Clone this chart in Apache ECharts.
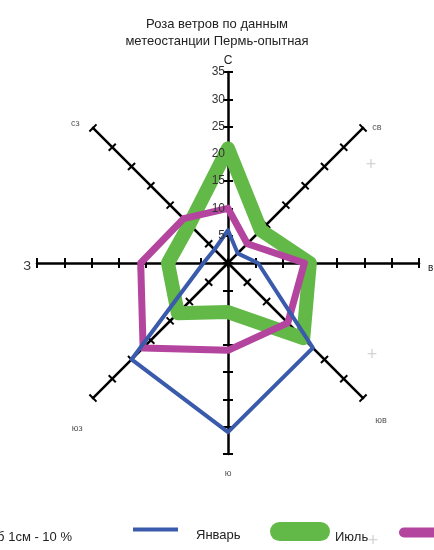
<!DOCTYPE html>
<html>
<head>
<meta charset="utf-8">
<title>Роза ветров</title>
<script src="https://cdn.jsdelivr.net/npm/echarts@6/dist/echarts.min.js"></script>
<style>
html, body { margin: 0; padding: 0; background: #fff; }
#dataView { width: 434px; height: 550px; }
</style>
</head>
<body>
<div id="dataView"></div>
<script>
// румбы в порядке радара echarts: от севера против часовой стрелки
var directions = ['С', 'сз', 'З', 'юз', 'ю', 'юв', 'в', 'св'];
var dirKeys = ['n', 'nw', 'w', 'sw', 's', 'se', 'e', 'ne'];
// повторяемость ветра, %
var janValues = [6, 3.5, 4.5, 25, 31, 22, 5.5, 2.5];
var julValues = [21, 10, 11, 13, 9, 19.5, 15, 8.5];
var yearValues = [10, 11.5, 16, 22, 16, 15.5, 14, 5];
var seriesNames = ['Январь', 'Июль', 'Год'];
var scaleTicks = [0, 5, 10, 15, 20, 25, 30, 35];

var FONT = 'Liberation Sans, Arial, sans-serif';
var CENTER = [228, 263];
var RADIUS = 191;
var scaleMax = scaleTicks[scaleTicks.length - 1];
var scaleStep = scaleTicks[1] - scaleTicks[0];

var indicators = directions.map(function (d) {
	return { name: d, min: 0, max: scaleMax };
});

// два радара: у одного засечки с одной стороны оси, у другого с другой
function radarBase(flip) {
	return {
		center: CENTER,
		radius: RADIUS,
		startAngle: 90,
		shape: 'polygon',
		splitNumber: scaleTicks.length - 1,
		indicator: indicators,
		nameGap: 6,
		axisLine: { show: !flip, lineStyle: { color: '#000', width: 2.5 } },
		axisTick: { show: true, length: flip ? -5 : 5, lineStyle: { color: '#000', width: 2 } },
		axisLabel: { show: false },
		splitLine: { show: false },
		splitArea: { show: false }
	};
}

var radarOuter = radarBase(false);
radarOuter.axisName = {
	show: true,
	verticalAlign: 'middle',
	fontFamily: FONT,
	formatter: function (name) {
		return '{' + dirKeys[directions.indexOf(name)] + '|' + name + '}';
	},
	rich: {
		n: { fontSize: 12, color: '#222', fontFamily: FONT, padding: [0, 0, 10, 0] },
		ne: { fontSize: 9, color: '#555', fontFamily: FONT, padding: [8, 0, 0, 5] },
		e: { fontSize: 10, color: '#222', fontFamily: FONT, padding: [10, 0, 0, 3] },
		se: { fontSize: 9, color: '#555', fontFamily: FONT, padding: [36, 0, 0, 8] },
		s: { fontSize: 9, color: '#555', fontFamily: FONT, padding: [28, 0, 0, 0] },
		sw: { fontSize: 9, color: '#555', fontFamily: FONT, padding: [52, 6, 0, 0] },
		w: { fontSize: 13, color: '#333', fontFamily: FONT, padding: [6, 0, 0, 0] },
		nw: { fontSize: 9, color: '#555', fontFamily: FONT, padding: [0, 9, 0, 0] }
	}
};
var radarInner = radarBase(true);
radarInner.axisName = { show: false };

function windSeries(name, values, color, width, z) {
	return {
		name: name,
		type: 'radar',
		radarIndex: 0,
		symbol: 'none',
		z: z,
		lineStyle: { color: color, width: width, join: 'round', cap: 'round', opacity: 1 },
		itemStyle: { color: color },
		data: [{ name: name, value: values }]
	};
}

function legendItem(name, left, top, w, h, icon, padLeft) {
	return {
		data: [name],
		left: left,
		top: top,
		padding: 0,
		itemWidth: w,
		itemHeight: h,
		icon: icon,
		selectedMode: false,
		// пустая первая строка опускает подпись чуть ниже значка
		formatter: function (n) { return '\n' + n; },
		textStyle: { fontSize: 13, lineHeight: 12, color: '#222', fontFamily: FONT, padding: [0, 0, 0, padLeft] }
	};
}

// бледные крестики со скана
function faintCross(x, y) {
	return {
		type: 'text', x: x, y: y, silent: true,
		style: { text: '+', align: 'center', verticalAlign: 'middle', fontSize: 18, fill: '#d4d4d4', fontFamily: FONT }
	};
}

var chart = echarts.init(document.getElementById('dataView'));
var option = {
	animation: false,
	backgroundColor: '#fff',
	title: {
		text: 'Роза ветров по данным\nметеостанции Пермь-опытная',
		left: 'center',
		top: 11,
		textStyle: { fontSize: 13, fontWeight: 'normal', color: '#222', fontFamily: FONT, lineHeight: 17 }
	},
	radar: [radarOuter, radarInner],
	polar: { center: CENTER, radius: [0, RADIUS] },
	angleAxis: {
		startAngle: 90,
		min: 0, max: 360,
		axisLine: { show: false }, axisTick: { show: false },
		axisLabel: { show: false }, splitLine: { show: false }
	},
	radiusAxis: {
		z: 10,
		min: 0, max: scaleMax, interval: scaleStep,
		axisLine: { show: false }, axisTick: { show: false }, splitLine: { show: false },
		axisLabel: { showMinLabel: false, margin: 3, fontSize: 12, color: '#333', fontFamily: FONT }
	},
	legend: [
		legendItem(seriesNames[0], 133, 517, 45, 4, 'rect', 13),
		legendItem(seriesNames[1], 270, 519, 60, 19, 'path://M9.5,0 H50.5 A9.5,9.5 0 0 1 50.5,19 H9.5 A9.5,9.5 0 0 1 9.5,0 Z', 0),
		legendItem(seriesNames[2], 399, 520, 45, 10, 'path://M5,0 H40 A5,5 0 0 1 40,10 H5 A5,5 0 0 1 5,0 Z', 0)
	],
	graphic: [{
		type: 'text',
		x: 72, y: 537,
		style: { text: 'Масштаб 1см - 10 %', align: 'right', verticalAlign: 'middle', fontSize: 13, fill: '#222', fontFamily: FONT }
	}, faintCross(371, 165), faintCross(372, 355), faintCross(373, 541)],
	series: [
		windSeries(seriesNames[1], julValues, '#63b947', 14, 2),
		windSeries(seriesNames[2], yearValues, '#b3459f', 7, 3),
		windSeries(seriesNames[0], janValues, '#3a5aab', 4, 4)
	]
};
chart.setOption(option);
</script>
</body>
</html>
